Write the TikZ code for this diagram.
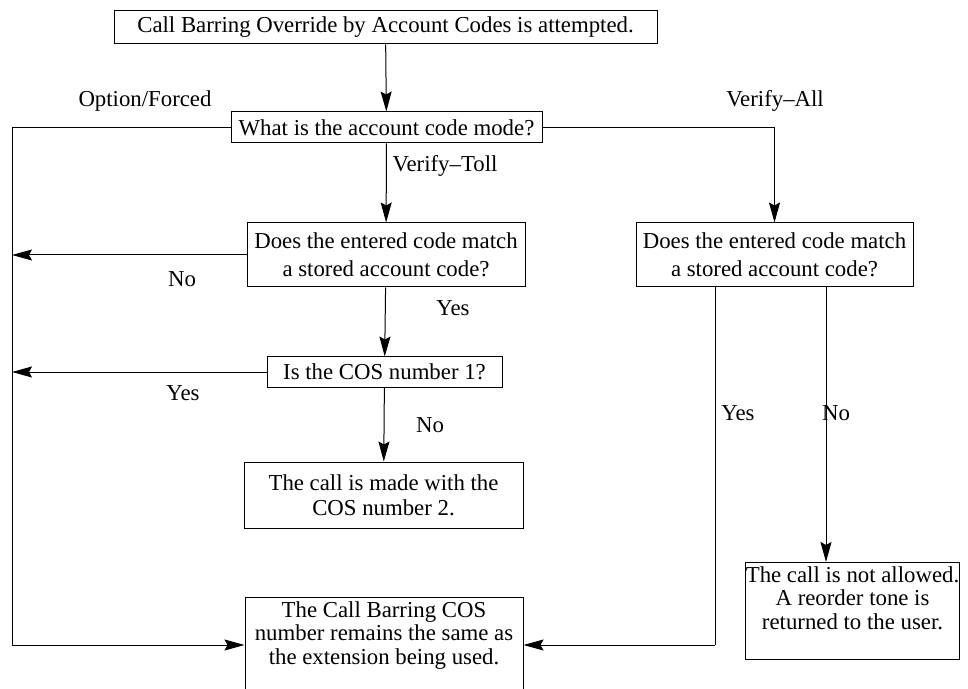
\documentclass[tikz,border=0pt]{standalone}
\usepackage{fontspec}
\setmainfont{Liberation Serif}
\usetikzlibrary{arrows.meta}

\tikzset{
  box/.style={draw, line width=0.5pt, align=center, inner sep=1.5pt},
  flow/.style={line width=0.5pt, -{Stealth[length=10pt, width=5.5pt, inset=1.5pt]}},
  rail/.style={line width=0.5pt},
  lbl/.style={inner sep=0pt}
}

\begin{document}
\begin{tikzpicture}[x=0.5pt, y=-0.5pt,
  every node/.style={font=\fontsize{11.4}{11.8}\selectfont}]

\useasboundingbox (0,0) rectangle (968,689);

% =========================
% BOXES (main column)
% =========================
\node[box, minimum width=271.5pt, minimum height=16.5pt] (start) at (385.5,27.5)
{Call Barring Override by Account Codes is attempted.};

\node[box, minimum width=155.5pt, minimum height=15.5pt] (mode) at (386.5,127.5)
{What is the account code mode?};

\node[box, minimum width=139pt, minimum height=32pt] (matchL) at (386,255)
{Does the entered code match\\[2pt] a stored account code?};

\node[box, minimum width=117.5pt, minimum height=15pt] (cos) at (384.5,372)
{Is the COS number 1?};

\node[box, minimum width=139.5pt, minimum height=33pt] (made) at (383.5,495)
{The call is made with the\\[0.5pt] COS number 2.};

% bottom box runs off the page
\node[box, anchor=north, inner ysep=2pt, minimum width=139pt, text depth=40pt] (same) at (384,597)
{The Call Barring COS\\ number remains the same as\\ the extension being used.};

% =========================
% BOXES (right column)
% =========================
\node[box, minimum width=138.5pt, minimum height=32pt] (matchR) at (774.5,255)
{Does the entered code match\\[2pt] a stored account code?};

\node[box, anchor=north, inner xsep=0pt, inner ysep=2pt, minimum width=105.5pt, text depth=13pt] (notok) at (852.5,562)
{The call is not allowed.\\ A reorder tone is\\ returned to the user.};

% =========================
% HELPER POINTS
% =========================
\coordinate (railTop) at (12,127.5);
\coordinate (railBot) at (12,645);
\coordinate (yesDrop) at (715,645);
\coordinate (noDrop) at (826,562);

% =========================
% CONNECTORS
% =========================
\draw[flow] (start) -- (mode);
\draw[flow] (mode) -- (matchL);
\draw[flow] (matchL) -- (cos);
\draw[flow] (cos) -- (made);

% option/forced rail on the left
\draw[rail] (mode.west) -- (railTop) -- (railBot);
\draw[flow] (railBot) -- (same.west |- railBot);
\draw[flow] (matchL.west) -- (matchL.west -| railTop);
\draw[flow] (cos.west) -- (cos.west -| railTop);

% verify-all branch
\draw[flow] (mode.east) -| (matchR.north);
\draw[rail] (yesDrop |- matchR.south) -- (yesDrop);
\draw[flow] (yesDrop) -- (same.east |- yesDrop);
\draw[flow] (noDrop |- matchR.south) -- (noDrop);

% =========================
% LABELS
% =========================
\node[lbl] (optLbl) at (145,101) {Option/Forced};
\node[lbl] (allLbl) at (775,101) {Verify--All};
\node[lbl] (tollLbl) at (445,166) {Verify--Toll};
\node[lbl] (noL) at (182,279) {No};
\node[lbl] (yesL) at (453,308) {Yes};
\node[lbl] (yesCos) at (183,393) {Yes};
\node[lbl] (noCos) at (430,425) {No};
\node[lbl] (yesR) at (738,413) {Yes};
\node[lbl] (noR) at (836,413) {No};

\end{tikzpicture}
\end{document}
